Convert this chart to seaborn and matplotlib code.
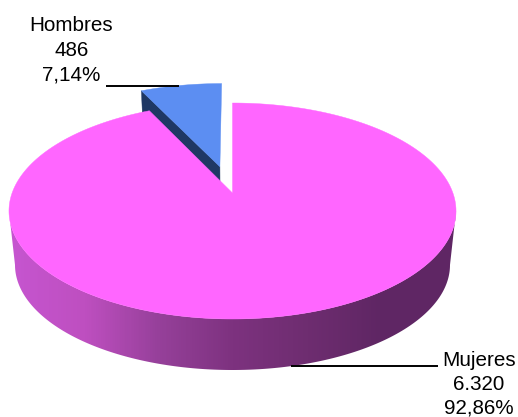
import numpy as np
import matplotlib
matplotlib.use("Agg")
import matplotlib.pyplot as plt
from matplotlib.patches import Polygon
import seaborn as sns

# datos
categorias = ["Hombres", "Mujeres"]
valores = [486, 6320]
etiquetas_valor = ["486", "6.320"]
etiquetas_pct = ["7,14%", "92,86%"]
separacion = [0.268, 0]

sns.set_theme(style="white")
plt.rcParams["font.family"] = ["Liberation Sans", "DejaVu Sans"]

ROSA = "#FF66FF"
AZUL = "#5C8EF2"
AZUL_OSCURO = "#1F3864"

# proyeccion del disco (radio 1) a pixeles de la imagen
CX, CY = 232.5, 193
A, B, K = 105, 220.4, 1 / 6
ALTO, ESCALA = 54.4, 0.973


def proyectar(u, v, abajo=False):
    d = 1 + K * v
    s = ESCALA if abajo else 1
    y0 = CY + ALTO if abajo else CY
    return CX + s * B * u / d, y0 - s * A * v / d


def contorno(w, n=200):
    t = np.radians(np.linspace(w.theta1, w.theta2, n))
    u = np.r_[w.center[0], w.center[0] + w.r * np.cos(t)]
    v = np.r_[w.center[1], w.center[1] + w.r * np.sin(t)]
    return u, v


fig = plt.figure(figsize=(5.18, 4.17), dpi=100)
ax = fig.add_axes([0, 0, 1, 1])

# los angulos salen del pie de matplotlib; luego se dibuja en perspectiva
wedges, _ = ax.pie(valores, explode=separacion, startangle=90)
for w in wedges:
    w.remove()
hombres, mujeres = wedges

# Hombres: cara lateral y cara superior
u, v = contorno(hombres)
x, y = proyectar(u, v)
xb, yb = proyectar(u, v, abajo=True)
cara = np.c_[np.r_[x[0], x[-1], xb[-1], xb[0]], np.r_[y[0], y[-1], yb[-1], yb[0]]]
ax.add_patch(Polygon(cara, fc=AZUL_OSCURO, ec=AZUL_OSCURO, lw=0.3))
ax.add_patch(Polygon(np.c_[x, y], fc=AZUL, ec=AZUL, lw=0.3))

# Mujeres: borde con degradado recortado a la banda frontal
cmap = sns.blend_palette(["#C655D0", "#BE4FC0", "#96409A", "#7D327F", "#6E2D70", "#5F2664", "#5F2664"], as_cmap=True)
t = np.radians(np.linspace(189.6, 350.4, 300))
xa, ya = proyectar(np.cos(t), np.sin(t))
xc, yc = proyectar(np.cos(t), np.sin(t), abajo=True)
banda = Polygon(np.c_[np.r_[xa, xc[::-1]], np.r_[ya, yc[::-1]]], fc="none", ec="none", transform=ax.transData)
ax.add_patch(banda)
grad = ax.imshow(np.linspace(0, 1, 447)[None, :], cmap=cmap, extent=(10, 457, 375, 200), aspect="auto", zorder=0.5)
grad.set_clip_path(banda)

u, v = contorno(mujeres, 500)
x, y = proyectar(u, v)
ax.add_patch(Polygon(np.c_[x, y], fc=ROSA, ec=ROSA, lw=0.3, zorder=1.5))

ax.set_aspect("auto")
ax.set_xlim(0, 518)
ax.set_ylim(417, 0)
ax.axis("off")

# lineas guia
ax.plot([106, 179], [85.7, 85.7], color="black", lw=1.4, solid_capstyle="butt", zorder=3)
ax.plot([291, 438], [365.7, 365.7], color="black", lw=1.4, solid_capstyle="butt", zorder=3)

# etiquetas
posiciones = [(71.5, [31, 55.5, 80]), (479, [366, 390.5, 413.5])]
for i, (px, ys) in enumerate(posiciones):
    lineas = [categorias[i], etiquetas_valor[i], etiquetas_pct[i]]
    for yy, txt in zip(ys, lineas):
        ax.text(px, yy, txt, ha="center", va="baseline", fontsize=14.9, color="black")

fig.savefig("out.png", dpi=100)
